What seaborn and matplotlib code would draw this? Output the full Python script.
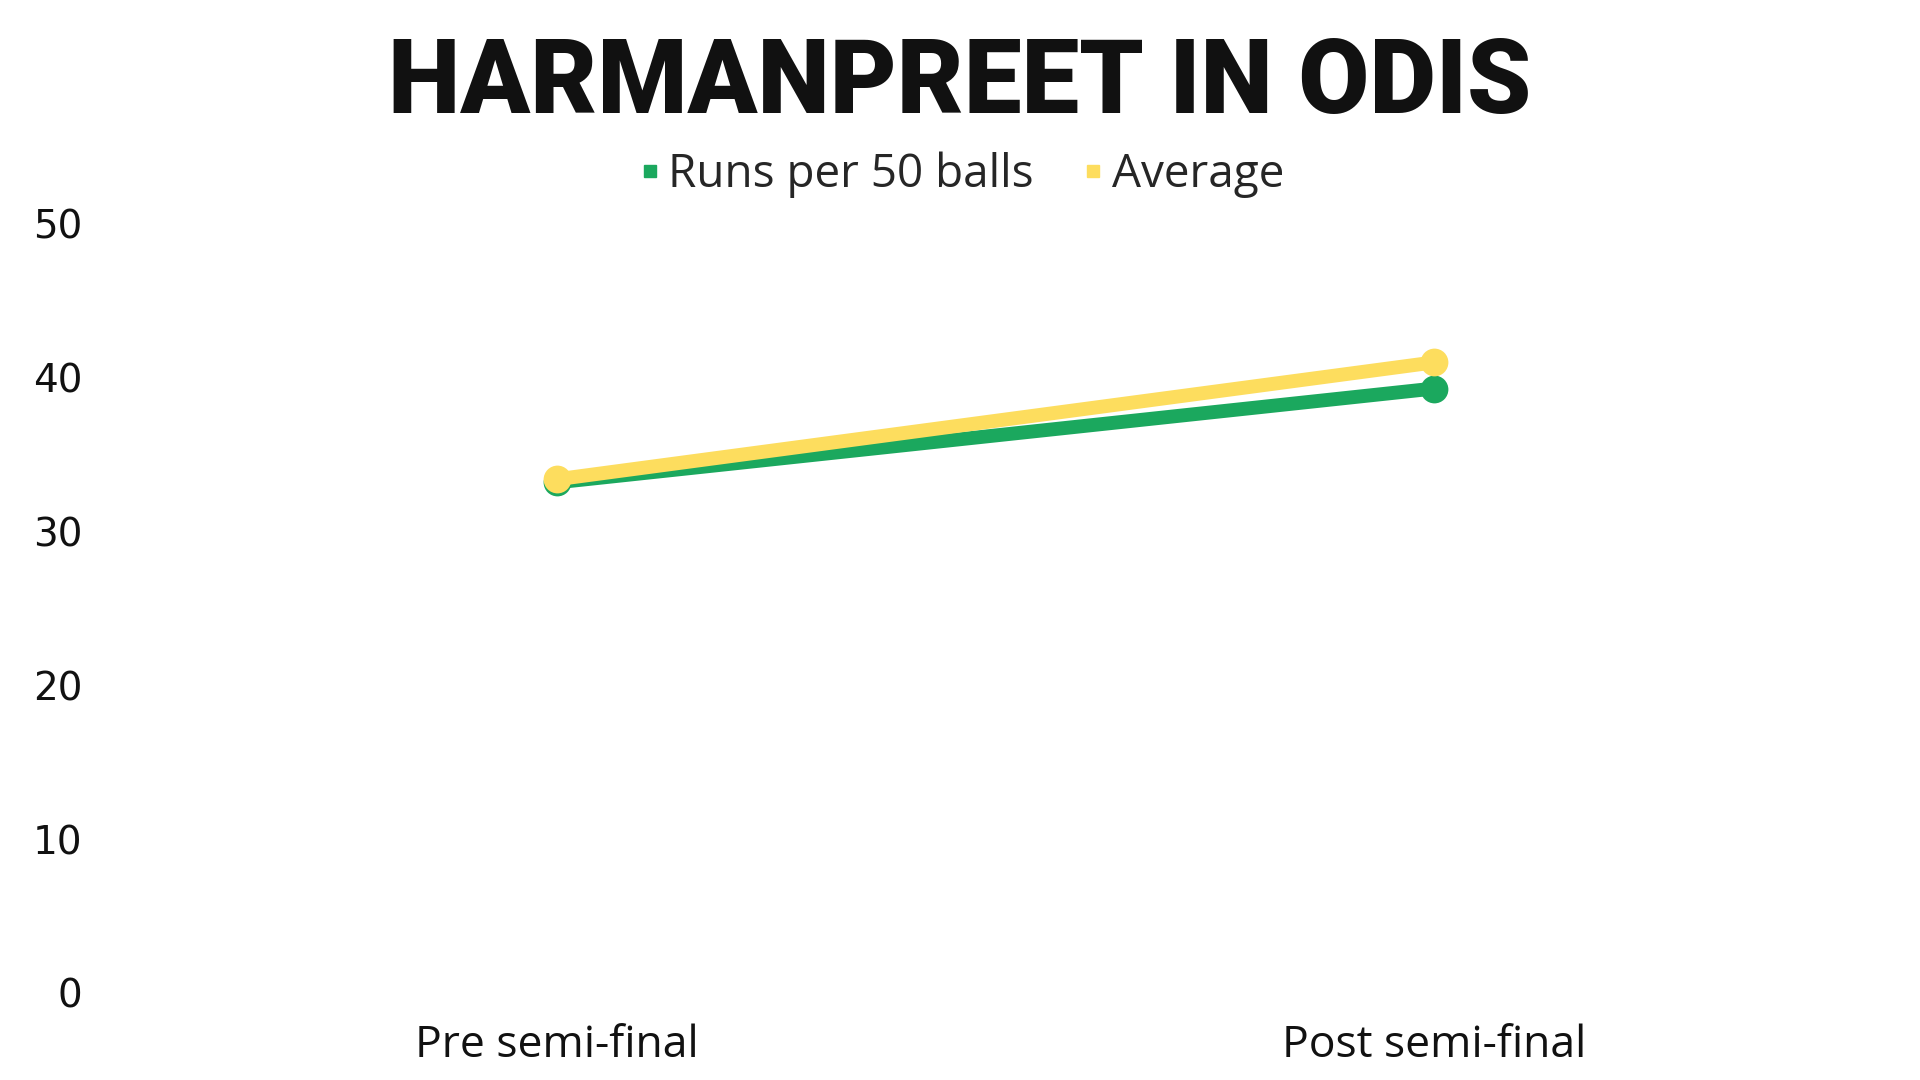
import pandas as pd
import numpy as np
import matplotlib.pyplot as plt
import seaborn as sns

# chart values
stages = ['Pre semi-final', 'Post semi-final']
runs_per_50 = [33.2, 39.3]
average = [33.4, 41.0]
series_names = ['Runs per 50 balls', 'Average']
colors = ['#1BA85E', '#FDDD5E']

df = pd.DataFrame({
    'stage': stages * 2,
    'value': runs_per_50 + average,
    'series': [series_names[0]] * 2 + [series_names[1]] * 2,
})

sns.set_theme(style='white')
plt.rcParams['font.family'] = ['Open Sans', 'DejaVu Sans']

fig = plt.figure(figsize=(19.2, 10.8), dpi=100)
ax = fig.add_axes([0.0617, 0.0806, 0.9135, 0.712])

sns.lineplot(data=df, x='stage', y='value', hue='series', palette=colors,
             marker='o', markersize=20, markeredgewidth=0, linewidth=10,
             sort=False, ax=ax, legend=False)

ax.set_xlim(-0.5, 1.5)
ax.set_ylim(0, 50)
ax.set_yticks(np.arange(0, 51, 10))
ax.set_xlabel('')
ax.set_ylabel('')
sns.despine(ax=ax, left=True, bottom=True)
ax.tick_params(axis='y', length=0, pad=26, labelsize=28, labelcolor='#111111')
ax.tick_params(axis='x', length=0, pad=22, labelsize=32, labelcolor='#111111')
for lab in ax.get_yticklabels():
    lab.set_fontfamily('DejaVu Sans')

fig.text(0.5, 0.922, 'HARMANPREET IN ODIS', ha='center', va='center',
         fontsize=74, fontweight='black', family='Roboto',
         color='#111111')

# legend
handles = [plt.Line2D([], [], marker='s', linestyle='', color=c, markersize=8)
           for c in colors]
fig.legend(handles, series_names, loc='center', bbox_to_anchor=(0.5, 0.838),
           ncol=2, frameon=False, fontsize=33, handletextpad=0.1,
           columnspacing=1.0, handlelength=0.6)

fig.savefig('out.png', dpi=100)
